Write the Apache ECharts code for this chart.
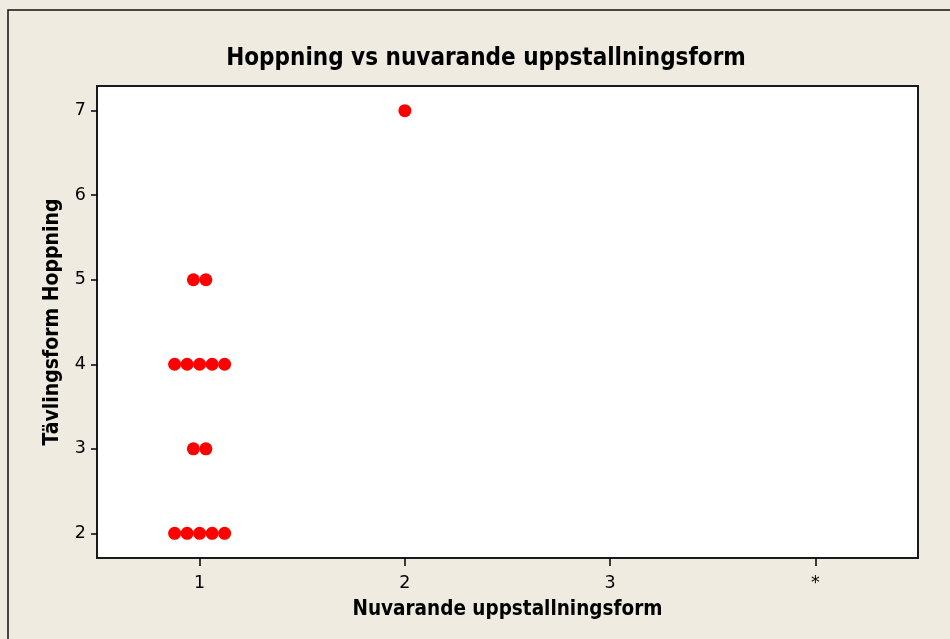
<!DOCTYPE html>
<html>
<head>
<meta charset="utf-8">
<script src="https://cdn.jsdelivr.net/npm/echarts@6/dist/echarts.min.js"></script>
<style>
html,body{margin:0;padding:0;background:#EFEBE1;}
#c{width:950px;height:639px;}
</style>
</head>
<body>
<div id="c"></div>
<script>
// Data
const titleText = 'Hoppning vs nuvarande uppstallningsform';
const xTitle = 'Nuvarande uppstallningsform';
const yTitle = 'Tävlingsform Hoppning';
const categories = ['1', '2', '3', '*'];
const yTickValues = [2, 3, 4, 5, 6, 7];
// individual observations (x category, y value)
const obsX = ['1','1','1','1','1','1','1','1','1','1','1','1','1','1','2'];
const obsY = [2, 2, 2, 2, 2, 3, 3, 4, 4, 4, 4, 4, 5, 5, 7];

// Build dot-plot style side-by-side offsets for coincident points
const groups = {};
obsX.forEach((x, i) => {
  const key = x + '|' + obsY[i];
  (groups[key] = groups[key] || []).push(i);
});
const dotStep = 12.5;
const points = [];
Object.keys(groups).forEach(key => {
  const idx = groups[key];
  const n = idx.length;
  idx.forEach((i, k) => {
    points.push({
      value: [obsX[i], obsY[i]],
      symbolOffset: [(k - (n - 1) / 2) * dotStep, 0]
    });
  });
});

const chart = echarts.init(document.getElementById('c'), null, {renderer: 'canvas'});
const fontFam = 'DejaVu Sans, Verdana, sans-serif';
const boldFam = '"DejaVu Sans Condensed", "DejaVu Sans", sans-serif';
chart.setOption({
  backgroundColor: '#EFEBE1',
  animation: false,
  title: {
    text: titleText,
    left: 481,
    textAlign: 'center',
    top: 42,
    textStyle: {fontFamily: boldFam, fontWeight: 'bold', fontSize: 24, color: '#000'}
  },
  graphic: [{
    type: 'rect',
    shape: {x: 8, y: 10, width: 1000, height: 700},
    style: {fill: 'none', stroke: '#111', lineWidth: 1.5},
    silent: true
  }],
  grid: {
    left: 97, right: 32, top: 86, bottom: 81,
    show: true, backgroundColor: '#fff', borderColor: '#1a1a1a', borderWidth: 2
  },
  xAxis: {
    type: 'category',
    data: categories,
    boundaryGap: true,
    name: xTitle,
    nameLocation: 'middle',
    nameGap: 41,
    nameTextStyle: {fontFamily: boldFam, fontWeight: 'bold', fontSize: 20.5, color: '#000'},
    axisLine: {show: false},
    axisTick: {show: true, alignWithLabel: true, length: 8, lineStyle: {color: '#000', width: 1.5}},
    axisLabel: {fontFamily: fontFam, fontSize: 17.5, color: '#000', margin: 16},
    splitLine: {show: false}
  },
  yAxis: {
    type: 'value',
    min: 1.708,
    max: 7.292,
    name: yTitle,
    nameLocation: 'middle',
    nameGap: 34,
    nameRotate: 90,
    nameTextStyle: {fontFamily: boldFam, fontWeight: 'bold', fontSize: 21, color: '#000'},
    axisLine: {show: false},
    axisTick: {show: true, length: 6, customValues: yTickValues, lineStyle: {color: '#000', width: 1.5}},
    axisLabel: {fontFamily: fontFam, fontSize: 17.5, color: '#000', margin: 11, customValues: yTickValues},
    splitLine: {show: false}
  },
  series: [{
    type: 'scatter',
    data: points,
    symbol: 'circle',
    symbolSize: 13,
    itemStyle: {color: '#FF0000', opacity: 1}
  }]
});
</script>
</body>
</html>
